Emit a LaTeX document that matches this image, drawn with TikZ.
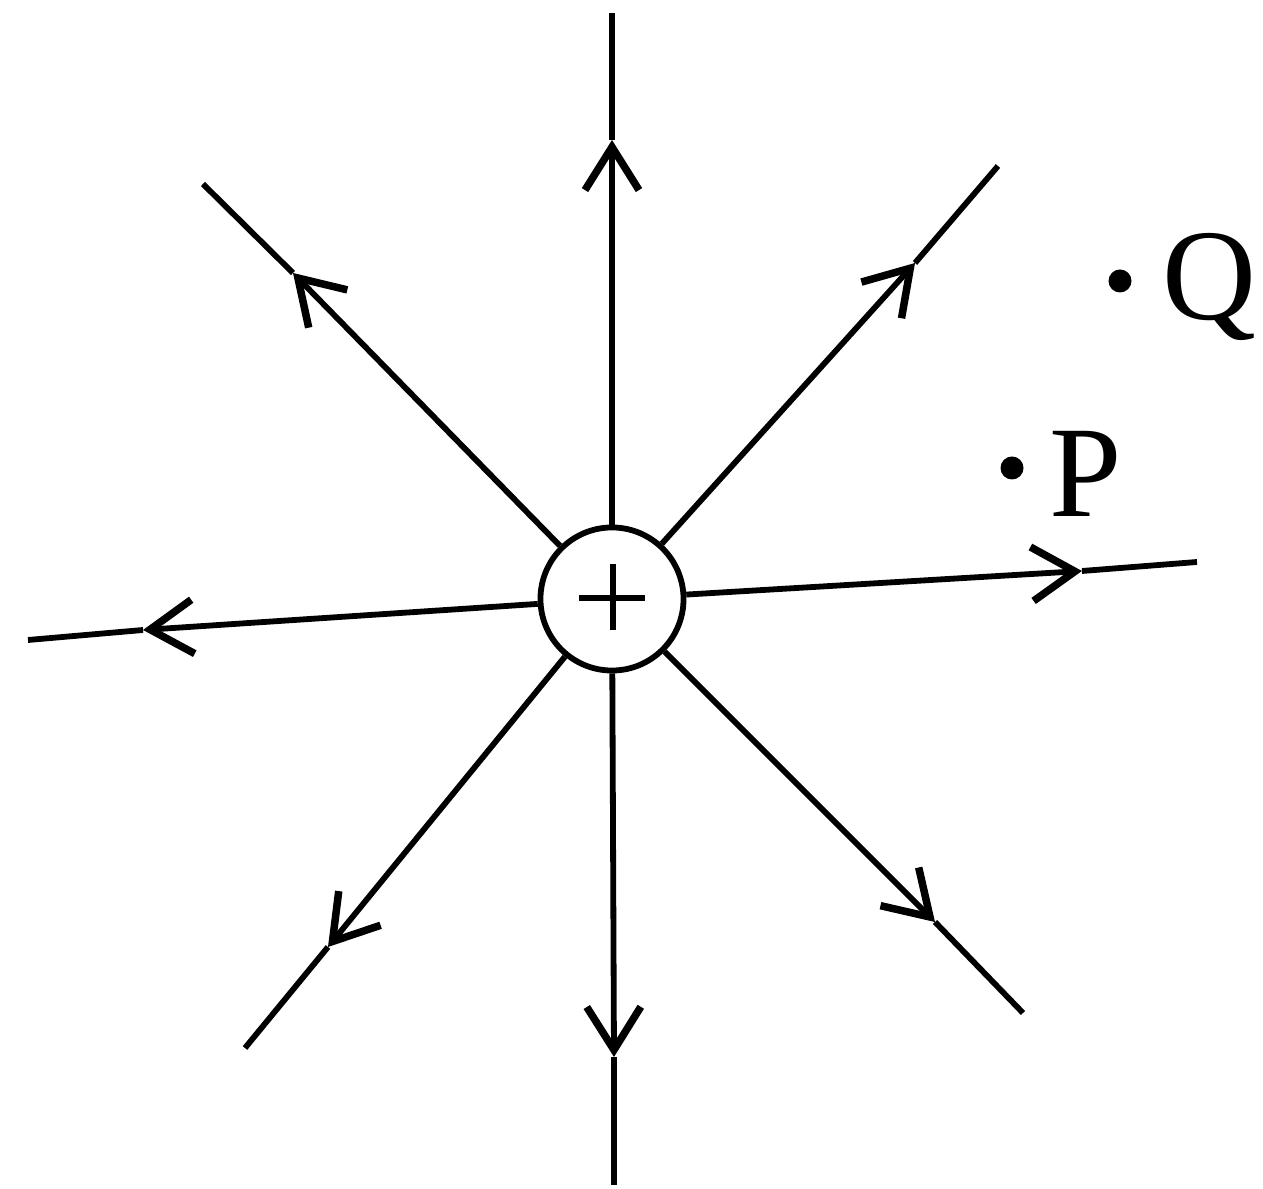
\documentclass[tikz,border=0pt]{standalone}
\usepackage{fontspec}
\setmainfont{Liberation Serif}
\usetikzlibrary{arrows.meta}
\tikzset{
  fieldline/.style={line width=0.058cm, black},
  fieldarrow/.style={fieldline, -{Straight Barb[length=0.43cm, width=0.54cm, line width=0.075cm]}},
  charge/.style={circle, draw, line width=0.058cm, minimum size=1.43cm, inner sep=0pt},
  dotpt/.style={circle, fill=black, inner sep=0pt, minimum size=0.23cm},
  ptlabel/.style={font=\fontsize{37}{40}\selectfont, inner sep=0pt, anchor=base west}
}
\begin{document}
\begin{tikzpicture}[x=0.01cm, y=-0.01cm]
\useasboundingbox (0,0) rectangle (1263,1189);
\fill[white] (0,0) rectangle (1263,1189);

\node[charge] (c) at (612,599) {};
\draw[fieldline] (c.center) ++(-33,-1) -- ++(66,0);
\draw[fieldline] (c.center) ++(1,-35) -- ++(0,66);

% arrow tips and free ends
\coordinate (tu) at (612,140);  \coordinate (eu) at (612,13);
\coordinate (tul) at (293,273); \coordinate (eul) at (203,184);
\coordinate (tur) at (915,263); \coordinate (eur) at (998,166);
\coordinate (tr) at (1082,571); \coordinate (er) at (1197,562);
\coordinate (tl) at (143,630);  \coordinate (el) at (28,640);
\coordinate (tll) at (328,947); \coordinate (ell) at (245,1048);
\coordinate (td) at (614,1057); \coordinate (ed) at (614,1185);
\coordinate (tlr) at (935,922); \coordinate (elr) at (1023,1013);

\foreach \t/\e in {tu/eu, tul/eul, tur/eur, tr/er, tl/el, tll/ell, td/ed, tlr/elr}{
  \draw[fieldarrow] (c) -- (\t);
  \draw[fieldline] (\t) -- (\e);
}

\node[dotpt] (pdot) at (1012,468) {};
\node[ptlabel] (plabel) at (1049,517) {P};
\node[dotpt] (qdot) at (1120,281) {};
\node[ptlabel] (qlabel) at (1162,320) {Q};
\end{tikzpicture}
\end{document}
